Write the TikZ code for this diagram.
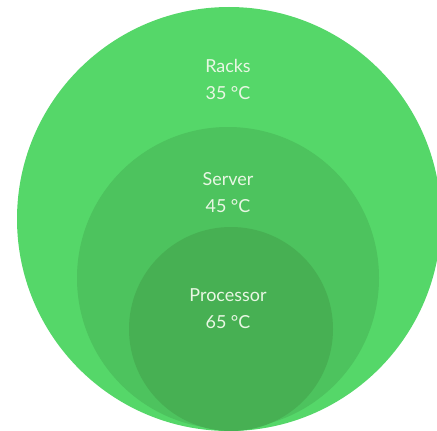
\documentclass[tikz,border=0pt]{standalone}
\usepackage{fontspec}
\setmainfont{Lato}
\definecolor{rackgreen}{HTML}{55D769}
\definecolor{servergreen}{HTML}{4DC35E}
\definecolor{procgreen}{HTML}{47B053}
\definecolor{labeltext}{HTML}{E9F7E4}
\tikzset{
  zone/.style={draw=none},
  zonelabel/.style={text=labeltext, align=center, inner sep=0pt,
    font=\fontsize{18}{26.5}\selectfont}
}
\begin{document}
\begin{tikzpicture}[x=1bp,y=1bp]
  \useasboundingbox (0,0) rectangle (437,430);
  \clip (0,0) rectangle (437,430);
  % nested temperature zones, all resting on the bottom edge
  \fill[zone, rackgreen]   (229,211) circle (212);
  \fill[zone, servergreen] (228,152) circle (151);
  \fill[zone, procgreen]   (231,101) circle (102);
  % labels (anchored at the baseline of the temperature line)
  \node[zonelabel, anchor=base] (racks) at (228,331) {Racks\\35 °C};
  \node[zonelabel, anchor=base] (server) at (228,218) {Server\\45 °C};
  \node[zonelabel, anchor=base] (proc) at (228,102) {Processor\\65 °C};
\end{tikzpicture}
\end{document}
